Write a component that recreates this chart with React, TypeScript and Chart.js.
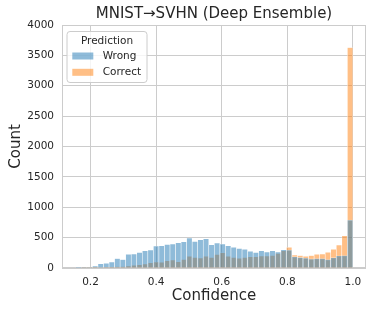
import React, { useEffect, useRef } from "react";
import { Chart, registerables } from "chart.js";

Chart.register(...registerables);

// Histogram bins (50 bins)
const binStart = 0.155;
const binWidth = 0.0169;

const wrongCounts = [
  2, 6, 12, 35, 70, 77, 100, 155, 140, 225,
  230, 257, 284, 296, 362, 367, 389, 395, 417, 433,
  493, 438, 466, 482, 384, 411, 395, 367, 340, 323,
  307, 274, 257, 285, 263, 285, 263, 301, 296, 186,
  175, 164, 150, 155, 155, 140, 170, 200, 205, 790,
];

const correctCounts = [
  0, 1, 2, 5, 8, 10, 15, 18, 25, 35,
  45, 55, 65, 85, 99, 93, 120, 131, 104, 142,
  192, 175, 164, 192, 175, 224, 252, 192, 175, 159,
  175, 186, 186, 197, 197, 208, 241, 285, 340, 214,
  205, 195, 205, 225, 230, 260, 310, 380, 530, 3630,
];

const xTicks = [0.2, 0.4, 0.6, 0.8, 1.0];
const yTicks = [0, 500, 1000, 1500, 2000, 2500, 3000, 3500, 4000];
const seriesNames = ["Wrong", "Correct"];
const legendTitle = "Prediction";
const chartTitle = "MNIST→SVHN (Deep Ensemble)";

const BLUE = "rgba(31,119,180,0.5)";
const ORANGE = "rgba(255,127,14,0.5)";
const FONT = "DejaVu Sans";
const TEXT = "#262626";
const GRID = "#cccccc";

const centers = wrongCounts.map((_, i) => binStart + binWidth * (i + 0.5));

const frameAndLegend = {
  id: "frameAndLegend",
  beforeDatasetsDraw(chart: any) {
    const { ctx, chartArea: a } = chart;
    ctx.save();
    ctx.strokeStyle = GRID;
    ctx.lineWidth = 1;
    ctx.strokeRect(a.left + 0.5, a.top + 0.5, a.right - a.left - 1, a.bottom - a.top - 1);
    ctx.restore();
  },
  afterDatasetsDraw(chart: any) {
    const { ctx, chartArea: a } = chart;
    ctx.save();
    // title centred over the plot area
    ctx.fillStyle = TEXT;
    ctx.font = `15px "${FONT}"`;
    ctx.textAlign = "center";
    ctx.textBaseline = "middle";
    ctx.fillText(chartTitle, (a.left + a.right) / 2, 14.5);

    const x0 = a.left + 5;
    const y0 = a.top + 6.5;
    const w = 80;
    const h = 51;
    ctx.beginPath();
    const r = 3;
    ctx.moveTo(x0 + r, y0);
    ctx.lineTo(x0 + w - r, y0);
    ctx.arcTo(x0 + w, y0, x0 + w, y0 + r, r);
    ctx.lineTo(x0 + w, y0 + h - r);
    ctx.arcTo(x0 + w, y0 + h, x0 + w - r, y0 + h, r);
    ctx.lineTo(x0 + r, y0 + h);
    ctx.arcTo(x0, y0 + h, x0, y0 + h - r, r);
    ctx.lineTo(x0, y0 + r);
    ctx.arcTo(x0, y0, x0 + r, y0, r);
    ctx.closePath();
    ctx.fillStyle = "rgba(255,255,255,0.8)";
    ctx.fill();
    ctx.strokeStyle = GRID;
    ctx.lineWidth = 1;
    ctx.stroke();

    ctx.fillStyle = TEXT;
    ctx.font = `10.5px "${FONT}"`;
    ctx.textAlign = "center";
    ctx.textBaseline = "middle";
    ctx.fillText(legendTitle, x0 + w / 2, y0 + 9.5);

    const colors = [BLUE, ORANGE];
    seriesNames.forEach((name, i) => {
      const cy = y0 + 24.5 + i * 16.3;
      ctx.fillStyle = colors[i];
      ctx.fillRect(x0 + 5.3, cy - 3.5, 21, 7);
      ctx.fillStyle = TEXT;
      ctx.textAlign = "left";
      ctx.fillText(name, x0 + 35.7, cy);
    });
    ctx.restore();
  },
};

export default function App() {
  const ref = useRef<HTMLCanvasElement | null>(null);

  useEffect(() => {
    if (!ref.current) return;
    const chart = new Chart(ref.current, {
      type: "bar",
      data: {
        datasets: [
          {
            label: seriesNames[0],
            data: centers.map((x, i) => ({ x, y: wrongCounts[i] })),
            backgroundColor: BLUE,
            borderColor: "rgba(255,255,255,0.5)",
            borderWidth: 0.6,
            barPercentage: 1,
            categoryPercentage: 1,
            grouped: false,
          },
          {
            label: seriesNames[1],
            data: centers.map((x, i) => ({ x, y: correctCounts[i] })),
            backgroundColor: ORANGE,
            borderColor: "rgba(255,255,255,0.5)",
            borderWidth: 0.6,
            barPercentage: 1,
            categoryPercentage: 1,
            grouped: false,
          },
        ],
      },
      options: {
        responsive: false,
        animation: false,
        layout: { padding: { left: 0, right: 8, top: 25, bottom: 0 } },
        plugins: {
          legend: { display: false },
          tooltip: { enabled: false },
          title: { display: false },
        },
        scales: {
          x: {
            type: "linear",
            min: 0.113,
            max: 1.04,
            offset: false,
            afterFit(scale: any) {
              scale.height = 45;
            },
            afterBuildTicks(scale: any) {
              scale.ticks = xTicks.map((v) => ({ value: v }));
            },
            ticks: {
              color: TEXT,
              font: { family: FONT, size: 10.5 },
              padding: 8,
              maxRotation: 0,
              callback: (v: any) => Number(v).toFixed(1),
            },
            grid: { color: GRID, offset: false, drawTicks: false },
            border: { display: false },
            title: {
              display: true,
              text: "Confidence",
              color: TEXT,
              font: { family: FONT, size: 15 },
              padding: { top: 0, bottom: 8 },
            },
          },
          y: {
            min: 0,
            max: 4000,
            afterFit(scale: any) {
              scale.width = 62;
            },
            afterBuildTicks(scale: any) {
              scale.ticks = yTicks.map((v) => ({ value: v }));
            },
            ticks: {
              color: TEXT,
              font: { family: FONT, size: 10.5 },
              padding: 8,
              callback: (v: any) => String(v),
            },
            grid: { color: GRID, drawTicks: false },
            border: { display: false },
            title: {
              display: true,
              text: "Count",
              color: TEXT,
              font: { family: FONT, size: 15 },
              padding: { top: 7, bottom: 0 },
            },
          },
        },
      },
      plugins: [frameAndLegend],
    } as any);
    return () => chart.destroy();
  }, []);

  return (
    <div style={{ position: "fixed", left: 0, top: 0, width: 374, height: 313, background: "#fff" }}>
      <canvas ref={ref} width={374} height={313} style={{ display: "block" }} />
    </div>
  );
}
